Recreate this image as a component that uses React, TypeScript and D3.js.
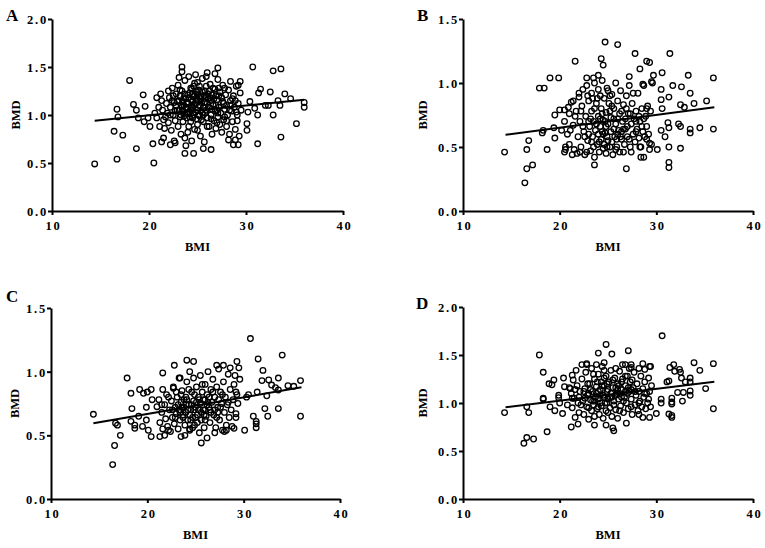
import * as d3 from "d3";
import React, { useEffect, useRef } from "react";

// BMI vs BMD, four panels
const xTicks = [10, 20, 30, 40];
const yTicksWide = [0, 0.5, 1.0, 1.5, 2.0];
const yTicksNarrow = [0, 0.5, 1.0, 1.5];

const pointsA = [
  [14.4, 0.49], [16.7, 0.54], [20.5, 0.50], [18.0, 1.36], [16.4, 0.83], [17.3, 0.79], [18.7, 0.65],
  [16.7, 1.06], [16.8, 0.98], [18.4, 1.11], [18.7, 1.05], [19.4, 1.21], [19.6, 1.09], [18.9, 0.97],
  [19.9, 0.97], [19.5, 0.93], [20.4, 0.70], [21.3, 0.72], [20.1, 0.88], [20.8, 0.97], [21.5, 0.76],
  [22.2, 0.69], [22.7, 0.71], [23.4, 1.50], [23.1, 1.39], [23.7, 0.60], [24.6, 0.60], [25.6, 0.65],
  [26.4, 0.64], [27.1, 1.49], [30.7, 1.50], [32.8, 1.46], [33.6, 1.48], [31.5, 1.27], [31.3, 1.23],
  [32.5, 1.24], [34.0, 1.22], [34.6, 1.17], [36.0, 1.13], [36.0, 1.08], [35.2, 0.91], [33.6, 0.77],
  [31.2, 0.70], [30.1, 0.91], [30.1, 0.84], [29.2, 0.69], [28.7, 0.69], [28.9, 0.74], [28.2, 0.74],
  [32.0, 1.10], [33.3, 1.15], [33.5, 1.10], [32.8, 1.00], [32.3, 1.10], [30.4, 1.14], [30.9, 1.07],
  [31.2, 1.00], [30.2, 1.03], [29.1, 0.94], [29.0, 1.03], [29.4, 1.35], [29.2, 1.31], [28.4, 1.35],
  [27.8, 1.28],
  [21.2, 1.22], [21.3, 1.15], [21.4, 1.05], [21.5, 0.95], [21.6, 0.86], [21.8, 1.12], [21.9, 1.02],
  [22.0, 0.92], [22.1, 1.18], [22.2, 1.08], [22.3, 0.84], [22.4, 1.28], [22.5, 1.00], [22.6, 1.13],
  [22.7, 0.94], [22.8, 1.22], [22.9, 1.05], [23.0, 0.88], [23.0, 1.31], [23.1, 1.15], [23.2, 0.98],
  [23.3, 1.10], [23.3, 0.80], [23.4, 1.25], [23.5, 1.04], [23.5, 0.93], [23.6, 1.18], [23.7, 1.36],
  [23.7, 0.76], [23.8, 1.08], [23.9, 0.97], [24.0, 1.21], [24.0, 1.12], [24.1, 0.88], [24.1, 1.40],
  [24.2, 1.03], [24.3, 1.16], [24.3, 0.93], [24.4, 1.27], [24.4, 0.73], [24.5, 1.08], [24.6, 1.00],
  [24.6, 1.19], [24.7, 0.85], [24.7, 1.33], [24.8, 1.12], [24.9, 0.96], [24.9, 1.24], [25.0, 1.05],
  [25.0, 0.90], [25.1, 1.15], [25.2, 1.30], [25.2, 0.99], [25.3, 1.09], [25.3, 0.78], [25.4, 1.20],
  [25.5, 1.02], [25.5, 1.38], [25.6, 0.93], [25.7, 1.13], [25.7, 0.72], [25.8, 1.25], [25.9, 1.05],
  [26.0, 0.97], [26.0, 1.44], [26.1, 1.17], [26.2, 0.88], [26.2, 1.08], [26.3, 1.32], [26.4, 1.00],
  [26.5, 1.21], [26.5, 0.80], [26.6, 1.11], [26.7, 0.94], [26.8, 1.27], [26.8, 1.04], [26.9, 0.86],
  [27.0, 1.16], [27.1, 1.37], [27.1, 0.98], [27.2, 1.08], [27.3, 0.90], [27.3, 1.24], [27.4, 1.02],
  [27.5, 0.82], [27.6, 1.14], [27.6, 1.31], [27.7, 0.95], [27.8, 1.06], [27.9, 1.21], [28.0, 0.88],
  [28.0, 1.10], [28.1, 1.00], [28.2, 1.26], [28.3, 0.80], [28.4, 1.15], [28.5, 1.04], [28.6, 0.93],
  [28.7, 1.20], [28.8, 1.08], [28.9, 0.85], [29.0, 1.30], [29.1, 1.00], [29.2, 1.12], [29.3, 0.78],
  [29.4, 1.23], [29.5, 1.05], [22.0, 1.25], [21.0, 1.08], [20.8, 1.18], [20.6, 1.02], [21.1, 0.88],
  [22.6, 0.73], [23.8, 0.68], [23.4, 1.45], [24.8, 1.42], [26.8, 1.43], [25.9, 1.40], [24.4, 1.10],
  [25.6, 1.08], [25.0, 1.22], [24.2, 0.98], [26.0, 1.12], [23.6, 1.10], [27.0, 1.05], [25.4, 0.95],
  [24.6, 1.30], [23.2, 1.20], [23.5, 1.14], [23.9, 1.06], [24.2, 1.23], [24.5, 1.15], [24.8, 1.03],
  [25.1, 1.26], [25.3, 1.17], [25.6, 1.00], [25.9, 1.19], [26.2, 1.25], [26.5, 1.06], [26.7, 1.17],
  [23.8, 1.17], [24.0, 1.01], [24.7, 1.20], [25.2, 1.10], [25.8, 1.13], [26.4, 1.15], [23.1, 1.05],
  [22.8, 1.10], [22.4, 1.15], [27.2, 1.20], [27.7, 1.12], [28.3, 1.05], [28.6, 1.17], [26.9, 1.10],
  [25.5, 1.24], [24.3, 1.07], [23.6, 0.99],
  [22.5, 1.20], [22.9, 1.14], [23.2, 1.26], [23.4, 1.08], [23.7, 1.22], [23.9, 1.13], [24.1, 1.18],
  [24.3, 1.28], [24.5, 1.22], [24.6, 1.10], [24.9, 1.16], [25.0, 1.34], [25.2, 1.19], [25.4, 1.13],
  [25.7, 1.20], [25.9, 1.30], [26.1, 1.22], [26.3, 1.18], [26.6, 1.28], [26.9, 1.20], [27.2, 1.28],
  [27.5, 1.18], [22.7, 1.04], [23.3, 1.00], [23.9, 1.02], [24.5, 0.97], [25.1, 1.00], [25.8, 1.02],
  [26.4, 0.96], [27.1, 1.02], [27.8, 0.98], [28.4, 1.10], [28.9, 1.15], [22.2, 1.00], [21.7, 0.98],
  [24.0, 0.82], [25.0, 0.84], [26.0, 0.88], [27.0, 0.92], [28.0, 0.94],
];

const pointsB = [
  [14.3, 0.46], [16.4, 0.22], [16.6, 0.33], [17.2, 0.36], [16.6, 0.48], [16.8, 0.55], [18.7, 0.48],
  [17.9, 0.96], [18.4, 0.96], [19.0, 1.04], [19.9, 1.04], [18.2, 0.61], [18.3, 0.63], [19.4, 0.65],
  [19.5, 0.57], [19.5, 0.75], [20.0, 0.79], [20.2, 0.63], [21.1, 0.63], [20.6, 0.50], [20.5, 0.46],
  [21.3, 0.44], [22.1, 0.46], [21.6, 1.17], [24.7, 1.32], [26.0, 1.30], [24.3, 1.19], [24.5, 1.14],
  [22.8, 1.04], [23.5, 1.04], [24.0, 1.06], [23.6, 0.36], [22.4, 0.95], [22.0, 0.89], [21.4, 0.86],
  [20.9, 0.81], [20.5, 0.79],
  [27.8, 1.23], [31.4, 1.23], [29.0, 1.17], [29.3, 1.16], [28.3, 1.11], [27.2, 1.05], [29.7, 1.06],
  [30.6, 1.08], [33.3, 1.06], [35.9, 1.04], [28.6, 0.99], [29.5, 1.01], [31.7, 0.98], [32.6, 0.97],
  [30.5, 0.95], [33.5, 0.92], [31.3, 0.89], [30.5, 0.87], [35.2, 0.86], [33.9, 0.84], [32.5, 0.83],
  [32.9, 0.81], [30.6, 0.80], [29.0, 0.80], [31.2, 0.69], [31.3, 0.65], [30.5, 0.63], [32.3, 0.68],
  [32.5, 0.66], [33.5, 0.64], [33.5, 0.61], [34.5, 0.65], [35.9, 0.64], [30.9, 0.58], [29.3, 0.53],
  [29.3, 0.48], [30.1, 0.48], [31.3, 0.50], [32.5, 0.49], [28.4, 0.42], [28.7, 0.42], [31.3, 0.38],
  [31.3, 0.34], [26.9, 0.33], [28.3, 0.50],
  [20.5, 0.70], [20.8, 0.60], [21.0, 0.52], [21.2, 0.85], [21.4, 0.67], [21.5, 0.48], [21.7, 0.78],
  [21.9, 0.58], [22.0, 0.92], [22.1, 0.70], [22.2, 0.50], [22.3, 0.82], [22.5, 0.62], [22.6, 0.44],
  [22.7, 0.74], [22.8, 0.98], [22.9, 0.55], [23.0, 0.86], [23.1, 0.66], [23.2, 0.47], [23.3, 0.78],
  [23.3, 0.92], [23.4, 0.58], [23.5, 0.70], [23.6, 0.42], [23.6, 1.00], [23.7, 0.63], [23.8, 0.84],
  [23.9, 0.52], [24.0, 0.74], [24.0, 0.95], [24.1, 0.46], [24.2, 0.66], [24.3, 0.80], [24.3, 0.56],
  [24.4, 1.02], [24.5, 0.71], [24.5, 0.49], [24.6, 0.88], [24.7, 0.61], [24.8, 0.77], [24.8, 0.45],
  [24.9, 0.96], [25.0, 0.55], [25.0, 0.68], [25.1, 0.84], [25.2, 0.50], [25.3, 0.73], [25.3, 0.62],
  [25.4, 0.91], [25.5, 0.44], [25.6, 0.80], [25.7, 0.58], [25.8, 0.68], [25.8, 1.00], [25.9, 0.50],
  [26.0, 0.86], [26.1, 0.63], [26.2, 0.76], [26.2, 0.46], [26.3, 0.94], [26.4, 0.56], [26.5, 0.70],
  [26.6, 0.83], [26.7, 0.52], [26.8, 0.64], [26.9, 0.90], [27.0, 0.58], [27.1, 0.76], [27.2, 0.98],
  [27.3, 0.50], [27.4, 0.68], [27.5, 0.84], [27.6, 0.60], [27.7, 0.72], [27.8, 0.54], [27.9, 0.78],
  [28.0, 0.64], [28.1, 0.92], [28.2, 0.57], [28.3, 0.70], [28.4, 0.50], [28.5, 0.80], [28.6, 0.62],
  [28.7, 0.98], [28.8, 0.58], [28.9, 0.74], [29.0, 0.66], [29.1, 0.82], [29.2, 0.60], [29.4, 0.78],
  [29.5, 0.52], [29.6, 1.00], [21.6, 0.74], [22.4, 0.66], [23.0, 0.60], [23.8, 0.68], [24.4, 0.62],
  [24.9, 0.58], [25.6, 0.64], [26.4, 0.62], [27.0, 0.66], [23.4, 0.88], [24.2, 0.90], [25.0, 0.94],
  [26.0, 0.72], [26.9, 0.80], [27.6, 0.92], [22.8, 0.46], [23.5, 0.50], [24.6, 0.52], [25.8, 0.48],
  [26.6, 0.46], [27.4, 0.46], [23.2, 0.72], [24.0, 0.60], [24.7, 0.70], [25.4, 0.54], [26.3, 0.58],
  [27.9, 0.62], [28.5, 0.66], [22.2, 0.78], [21.0, 0.76], [20.6, 0.48], [21.8, 0.45], [22.9, 0.90],
  [24.4, 0.76], [25.2, 0.78], [26.8, 0.72], [27.2, 0.56], [28.2, 0.74], [29.0, 0.56],
  [23.0, 0.70], [23.6, 0.80], [24.2, 0.72], [24.8, 0.66], [25.4, 0.82], [26.0, 0.60], [26.6, 0.64],
  [27.3, 0.76], [23.3, 0.54], [24.1, 0.54], [24.9, 0.50], [25.6, 0.72], [22.6, 0.58], [23.9, 0.88],
  [25.2, 0.90], [26.4, 0.78], [27.9, 0.70], [28.7, 0.72], [24.5, 0.60], [25.9, 0.56],
];

const pointsC = [
  [14.4, 0.665], [16.4, 0.27], [16.6, 0.42], [17.2, 0.50], [16.7, 0.595], [16.9, 0.58], [17.9, 0.95],
  [18.3, 0.83], [18.4, 0.71], [18.3, 0.61], [18.7, 0.58], [18.7, 0.555], [19.2, 0.86], [19.6, 0.83],
  [20.0, 0.84], [20.4, 0.86], [19.1, 0.65], [19.5, 0.57], [19.9, 0.62], [20.1, 0.54], [20.4, 0.49],
  [21.3, 0.49], [20.5, 0.78], [19.9, 0.72], [21.0, 0.725], [21.5, 0.74], [21.6, 0.99], [22.8, 1.05],
  [21.6, 0.86], [22.2, 0.80], [22.7, 0.87], [23.4, 0.95], [24.1, 1.09], [24.8, 1.08],
  [30.7, 1.26], [34.0, 1.13], [31.5, 1.10], [32.0, 1.01], [35.9, 0.93], [33.6, 0.95], [31.9, 0.93],
  [32.6, 0.935], [32.9, 0.895], [33.3, 0.875], [34.6, 0.89], [35.2, 0.885], [33.6, 0.856], [32.4, 0.81],
  [31.4, 0.84], [30.5, 0.82], [30.3, 0.80], [32.2, 0.71], [33.6, 0.71], [32.5, 0.65], [35.9, 0.65],
  [31.0, 0.65], [31.3, 0.61], [31.3, 0.59], [31.3, 0.56], [30.1, 0.54], [29.3, 1.08], [29.5, 1.03],
  [29.1, 0.97], [29.6, 0.94], [29.2, 0.84], [29.0, 0.555], [28.0, 0.53], [29.2, 0.67], [28.6, 1.03],
  [27.9, 1.05], [27.2, 1.05],
  [21.2, 0.78], [21.3, 0.60], [21.5, 0.68], [21.6, 0.55], [21.8, 0.74], [21.9, 0.63], [22.0, 0.82],
  [22.1, 0.57], [22.3, 0.70], [22.4, 0.53], [22.5, 0.77], [22.6, 0.64], [22.7, 0.88], [22.8, 0.59],
  [22.9, 0.72], [23.0, 0.67], [23.1, 0.80], [23.2, 0.55], [23.3, 0.95], [23.3, 0.70], [23.4, 0.62],
  [23.5, 0.76], [23.5, 0.49], [23.6, 0.85], [23.7, 0.66], [23.8, 0.72], [23.9, 0.58], [24.0, 0.80],
  [24.0, 0.68], [24.1, 0.92], [24.2, 0.62], [24.3, 0.74], [24.4, 1.00], [24.4, 0.55], [24.5, 0.70],
  [24.6, 0.84], [24.7, 0.64], [24.8, 0.77], [24.8, 0.95], [24.9, 0.58], [25.0, 0.72], [25.1, 0.88],
  [25.2, 0.66], [25.3, 0.80], [25.4, 0.52], [25.5, 0.75], [25.5, 0.97], [25.6, 0.62], [25.7, 0.84],
  [25.8, 0.70], [25.9, 0.56], [26.0, 0.90], [26.0, 0.78], [26.1, 0.65], [26.2, 0.82], [26.3, 1.00],
  [26.4, 0.72], [26.5, 0.60], [26.6, 0.86], [26.7, 0.76], [26.8, 0.94], [26.9, 0.66], [27.0, 0.80],
  [27.1, 0.56], [27.2, 0.88], [27.3, 0.72], [27.4, 1.02], [27.5, 0.62], [27.6, 0.84], [27.7, 0.75],
  [27.8, 0.54], [27.9, 0.92], [28.0, 0.68], [28.1, 0.80], [28.2, 0.58], [28.3, 0.74], [28.4, 0.98],
  [28.5, 0.64], [28.6, 0.86], [28.7, 0.70], [28.8, 0.57], [28.9, 0.78], [29.0, 0.90], [29.2, 0.64],
  [29.3, 0.82], [29.4, 0.75], [23.0, 0.84], [23.8, 0.78], [24.6, 0.74], [25.3, 0.70], [26.2, 0.74],
  [27.0, 0.70], [24.2, 0.70], [25.0, 0.64], [25.8, 0.78], [26.6, 0.68], [27.4, 0.78], [22.6, 0.70],
  [23.6, 0.72], [24.4, 0.66], [25.6, 0.68], [26.4, 0.80], [27.8, 0.82], [24.0, 0.74], [23.4, 0.68],
  [24.9, 0.82], [26.0, 0.70], [27.2, 0.64], [25.2, 0.60], [23.9, 0.50], [25.6, 0.44], [26.2, 0.48],
  [27.0, 0.52], [24.4, 0.54], [28.2, 0.54], [22.2, 0.54], [21.8, 0.50],
  [23.2, 0.74], [23.7, 0.64], [24.1, 0.78], [24.5, 0.62], [24.9, 0.70], [25.4, 0.78], [25.9, 0.66],
  [26.3, 0.76], [26.8, 0.84], [27.3, 0.68], [23.5, 0.82], [24.3, 0.86], [25.1, 0.76], [25.7, 0.90],
  [26.5, 0.70], [27.6, 0.72], [22.9, 0.64], [24.7, 0.56], [26.0, 0.62], [28.4, 0.76],
];

const pointsD = [
  [14.3, 0.90], [16.3, 0.58], [16.6, 0.64], [17.3, 0.625], [16.6, 0.96], [16.8, 0.90], [17.9, 1.50],
  [18.3, 1.32], [18.3, 1.05], [18.3, 1.04], [18.7, 0.70], [18.9, 1.20], [19.2, 1.19], [19.4, 1.24],
  [19.0, 0.96], [19.9, 1.08], [19.9, 1.055], [19.5, 0.92], [20.4, 1.26], [20.5, 1.17], [20.0, 1.00],
  [20.3, 0.89], [21.2, 0.75], [21.9, 0.78], [21.3, 1.29], [21.7, 1.34], [22.3, 1.40], [22.8, 1.41],
  [24.0, 1.52], [24.8, 1.61], [25.4, 1.51], [23.6, 0.77], [24.8, 0.77], [25.6, 0.71], [25.5, 0.74],
  [21.3, 1.05], [21.1, 1.15],
  [30.6, 1.70], [27.1, 1.545], [33.9, 1.42], [35.9, 1.41], [31.4, 1.37], [31.8, 1.40], [34.5, 1.34],
  [31.9, 1.33], [32.4, 1.35], [32.5, 1.32], [32.6, 1.26], [33.5, 1.26], [31.3, 1.23], [31.1, 1.22],
  [35.1, 1.15], [33.0, 1.22], [33.5, 1.22], [33.5, 1.125], [32.8, 1.11], [32.2, 1.11], [33.5, 1.08],
  [32.7, 1.02], [31.6, 1.05], [31.6, 1.01], [31.6, 0.99], [30.5, 1.04], [30.5, 1.00], [35.9, 0.94],
  [31.6, 0.87], [31.6, 0.85], [31.3, 0.885], [30.0, 0.89], [29.3, 0.85], [28.6, 0.85], [28.2, 0.88],
  [26.9, 0.79], [28.6, 1.41], [29.3, 1.38], [28.2, 1.36], [27.4, 1.40], [27.4, 1.37], [26.5, 1.40],
  [21.2, 1.10], [21.3, 0.95], [21.5, 1.05], [21.6, 0.85], [21.8, 1.18], [21.9, 1.00], [22.0, 0.90],
  [22.1, 1.12], [22.3, 1.25], [22.4, 1.02], [22.5, 0.88], [22.6, 1.15], [22.7, 1.32], [22.8, 0.96],
  [22.9, 1.08], [23.0, 0.83], [23.1, 1.20], [23.2, 1.03], [23.3, 0.92], [23.3, 1.36], [23.4, 1.12],
  [23.5, 0.98], [23.6, 1.25], [23.6, 0.86], [23.7, 1.06], [23.8, 1.17], [23.9, 0.94], [24.0, 1.30],
  [24.0, 1.04], [24.1, 0.88], [24.2, 1.14], [24.3, 1.22], [24.3, 0.97], [24.4, 1.38], [24.5, 1.08],
  [24.5, 0.84], [24.6, 1.18], [24.7, 1.00], [24.8, 1.28], [24.8, 0.92], [24.9, 1.12], [25.0, 1.04],
  [25.1, 1.22], [25.2, 0.95], [25.3, 1.34], [25.3, 1.10], [25.4, 0.86], [25.5, 1.16], [25.6, 1.02],
  [25.7, 1.26], [25.8, 0.93], [25.9, 1.10], [26.0, 1.20], [26.0, 0.84], [26.1, 1.04], [26.2, 1.33],
  [26.3, 0.97], [26.4, 1.14], [26.5, 1.25], [26.6, 0.90], [26.7, 1.06], [26.8, 1.18], [26.9, 1.00],
  [27.0, 1.28], [27.1, 0.94], [27.2, 1.12], [27.3, 1.22], [27.4, 1.04], [27.5, 0.88], [27.6, 1.16],
  [27.7, 1.32], [27.8, 0.98], [27.9, 1.08], [28.0, 1.20], [28.1, 0.92], [28.2, 1.12], [28.3, 1.02],
  [28.4, 1.28], [28.5, 0.96], [28.6, 1.15], [28.7, 1.06], [28.8, 1.22], [28.9, 0.94], [29.0, 1.10],
  [29.1, 1.00], [29.2, 1.26], [29.3, 1.12], [29.4, 0.96], [29.5, 1.18], [23.0, 1.10], [23.8, 1.10],
  [24.6, 1.06], [25.4, 1.06], [26.2, 1.10], [27.0, 1.10], [24.2, 1.00], [25.0, 1.14], [25.8, 1.16],
  [26.6, 1.02], [27.4, 1.14], [22.6, 1.05], [23.4, 1.02], [24.4, 1.18], [25.6, 0.98], [26.4, 1.06],
  [27.8, 1.12], [24.0, 1.12], [24.9, 1.00], [26.0, 1.14], [22.2, 0.98], [21.4, 1.24], [21.0, 1.16],
  [20.8, 0.98], [22.8, 1.40], [23.8, 1.40], [24.6, 1.42], [26.8, 1.40], [27.2, 1.36], [28.8, 1.35],
  [29.4, 1.38],
  [22.5, 1.12], [22.9, 1.20], [23.2, 1.14], [23.6, 1.02], [23.9, 1.22], [24.2, 1.08], [24.6, 1.26],
  [24.9, 1.20], [25.2, 1.06], [25.5, 1.24], [25.8, 1.08], [26.1, 1.18], [26.4, 1.22], [26.8, 1.12],
  [27.1, 1.16], [27.5, 1.24], [23.5, 1.30], [24.6, 1.34], [25.8, 1.36], [26.8, 1.28], [23.0, 0.95],
  [24.0, 0.96], [25.0, 0.90], [26.2, 0.92], [27.4, 0.96], [28.2, 1.00], [28.8, 1.10], [29.2, 1.04],
  [22.0, 1.06], [21.6, 1.14],
];

// regression line end points [bmi, bmd]
const fitA = [[14.4, 0.94], [36, 1.16]];
const fitB = [[14.4, 0.595], [36, 0.81]];
const fitC = [[14.4, 0.595], [36, 0.877]];
const fitD = [[14.4, 0.955], [36, 1.222]];

const panels = [
  { letter: "A", lx: 6, ly: 21, left: 52, right: 343, top: 19, bottom: 211, yMax: 2.0, yTicks: yTicksWide, labelOff: 36, points: pointsA, fit: fitA },
  { letter: "B", lx: 417, ly: 21, left: 463, right: 753, top: 19, bottom: 211, yMax: 1.5, yTicks: yTicksNarrow, labelOff: 40, points: pointsB, fit: fitB },
  { letter: "C", lx: 6, ly: 302, left: 51, right: 340, top: 308, bottom: 499, yMax: 1.5, yTicks: yTicksNarrow, labelOff: 36, points: pointsC, fit: fitC },
  { letter: "D", lx: 416, ly: 309, left: 463, right: 753, top: 307, bottom: 499, yMax: 2.0, yTicks: yTicksWide, labelOff: 40, points: pointsD, fit: fitD },
];

const font = "'Liberation Serif', 'Times New Roman', serif";

const App = () => {
  const ref = useRef<SVGSVGElement | null>(null);

  useEffect(() => {
    const svg = d3.select(ref.current);
    svg.selectAll("*").remove();

    panels.forEach((p) => {
      const x = d3.scaleLinear().domain([10, 40]).range([p.left, p.right]);
      const y = d3.scaleLinear().domain([0, p.yMax]).range([p.bottom, p.top]);
      const g = svg.append("g");

      const xAxis = g.append("g")
        .attr("transform", "translate(0," + p.bottom + ")")
        .call(d3.axisBottom(x).tickValues(xTicks).tickSize(4).tickSizeOuter(0).tickFormat(d3.format("d")));
      const yAxis = g.append("g")
        .attr("transform", "translate(" + p.left + ",0)")
        .call(d3.axisLeft(y).tickValues(p.yTicks).tickSize(4).tickSizeOuter(0).tickFormat(d3.format(".1f")));

      [xAxis, yAxis].forEach((a) => {
        a.select(".domain").attr("stroke", "#000").attr("stroke-width", 2);
        a.selectAll(".tick line").attr("stroke", "#000").attr("stroke-width", 2);
        a.selectAll(".tick text")
          .attr("fill", "#000")
          .style("font-family", font)
          .style("font-weight", "bold")
          .style("font-size", "12.5px")
          .style("letter-spacing", "1.8px");
      });
      xAxis.selectAll(".tick text").attr("y", 10).attr("dy", "0.71em").attr("dx", "1px");
      yAxis.selectAll(".tick text").attr("x", -4).attr("dy", "0.35em");

      g.append("text")
        .attr("x", (p.left + p.right) / 2)
        .attr("y", p.bottom + 40)
        .attr("text-anchor", "middle")
        .style("font-family", font)
        .style("font-weight", "bold")
        .style("font-size", "12.5px")
        .text("BMI");

      g.append("text")
        .attr("transform", "translate(" + (p.left - p.labelOff) + "," + (p.top + p.bottom) / 2 + ") rotate(-90)")
        .attr("text-anchor", "middle")
        .attr("dy", "0.35em")
        .style("font-family", font)
        .style("font-weight", "bold")
        .style("font-size", "12.5px")
        .text("BMD");

      g.append("text")
        .attr("x", p.lx)
        .attr("y", p.ly)
        .style("font-family", font)
        .style("font-weight", "bold")
        .style("font-size", "17px")
        .text(p.letter);

      g.append("g")
        .selectAll("circle")
        .data(p.points)
        .enter()
        .append("circle")
        .attr("cx", (d) => x(d[0]))
        .attr("cy", (d) => y(d[1]))
        .attr("r", 2.8)
        .attr("fill", "none")
        .attr("stroke", "#000")
        .attr("stroke-width", 1.3);

      g.append("path")
        .datum(p.fit)
        .attr("d", d3.line().x((d) => x(d[0])).y((d) => y(d[1])))
        .attr("stroke", "#000")
        .attr("stroke-width", 2)
        .attr("fill", "none");
    });
  }, []);

  return (
    <svg
      ref={ref}
      width={765}
      height={548}
      style={{ position: "absolute", left: 0, top: 0, background: "#fff" }}
    />
  );
};

export default App;
